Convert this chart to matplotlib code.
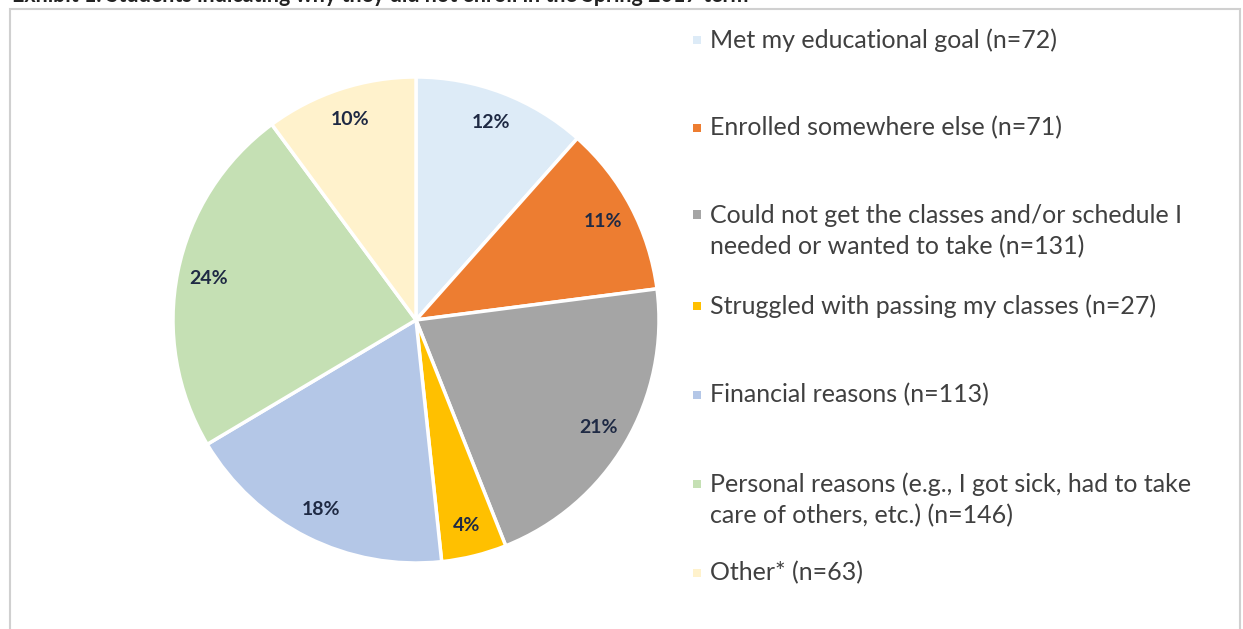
import matplotlib.pyplot as plt
from matplotlib.patches import Rectangle

plt.rcParams['font.family'] = ['Lato', 'DejaVu Sans']

# reasons, counts and the percent labels printed on the slices
reasons = ['Met my educational goal (n=72)',
           'Enrolled somewhere else (n=71)',
           'Could not get the classes and/or schedule I\nneeded or wanted to take (n=131)',
           'Struggled with passing my classes (n=27)',
           'Financial reasons (n=113)',
           'Personal reasons (e.g., I got sick, had to take\ncare of others, etc.) (n=146)',
           'Other* (n=63)']
counts = [72, 71, 131, 27, 113, 146, 63]
pct_labels = ['12%', '11%', '21%', '4%', '18%', '24%', '10%']
colors = ['#DDEBF7', '#ED7D31', '#A5A5A5', '#FFC000', '#B4C7E7', '#C5E0B4', '#FFF2CC']

title = 'Exhibit 1. Students indicating why they did not enroll in the Spring 2017 term'

fig = plt.figure(figsize=(12.43, 6.29), dpi=100)
fig.patch.set_facecolor('white')

# chart frame
fig.patches.append(Rectangle((10 / 1243, -0.1), 1230 / 1243, 1 - 9 / 629 + 0.1,
                             transform=fig.transFigure, fill=False,
                             edgecolor='#D0D0D0', linewidth=1.5))
# title, cut off at the top of the picture
fig.text(12 / 1243, 1 + 4 / 629, title, ha='left', va='center',
         fontsize=15.5, fontweight='bold', color='#222222')

# pie axes: centre about (416, 320), radius about 243 px
r = 243
ax = fig.add_axes([(416 - r) / 1243, 1 - (320 + r) / 629, 2 * r / 1243, 2 * r / 629])
lab_iter = iter(pct_labels)
wedges, texts, autotexts = ax.pie(
    counts, colors=colors, startangle=90, counterclock=False,
    autopct=lambda p: next(lab_iter), pctdistance=0.87,
    wedgeprops=dict(edgecolor='white', linewidth=2.5),
    textprops=dict(fontsize=14, fontweight='bold', color='#1F2A44'))
ax.set_xlim(-1, 1)
ax.set_ylim(-1, 1)
ax.set_aspect('equal')

# legend drawn as marker + text
ys = [40, 128, 231, 306, 395, 500, 573]
for name, c, y in zip(reasons, colors, ys):
    nlines = name.count('\n') + 1
    y_first = y - (nlines - 1) * 33 / 2
    fig.patches.append(Rectangle((693 / 1243, 1 - (y_first + 4) / 629), 8 / 1243, 8 / 629,
                                 transform=fig.transFigure, facecolor=c, edgecolor='none'))
    fig.text(710 / 1243, 1 - y / 629, name, ha='left', va='center',
             fontsize=18, color='#404040', linespacing=1.45)

fig.savefig('out.png', dpi=100)
